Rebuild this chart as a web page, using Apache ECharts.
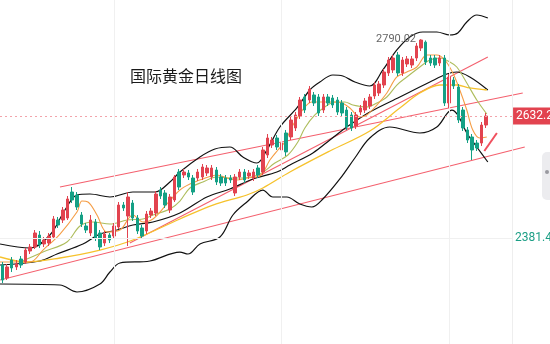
<!DOCTYPE html>
<html>
<head>
<meta charset="utf-8">
<script src="https://cdn.jsdelivr.net/npm/echarts@6/dist/echarts.min.js"></script>
<style>
  html, body { margin: 0; padding: 0; background: #fff; }
  #chart { width: 550px; height: 344px; }
</style>
</head>
<body>
<div id="chart"></div>
<script>
// Daily candles (oldest first): open, close, low, high
const opens = [2326.0,2299.3,2336.3,2322.0,2338.4,2332.2,2354.8,2363.0,2387.7,2369.2,
  2371.2,2383.6,2418.5,2418.5,2422.6,2476.0,2469.9,2428.8,2406.2,2391.8,
  2414.4,2391.8,2371.2,2387.7,2385.6,2404.1,2449.3,2426.7,2453.4,2422.6,
  2402.1,2395.9,2428.8,2432.9,2480.1,2474.0,2439.0,2459.6,2517.1,2511.0,
  2515.1,2504.8,2504.8,2506.9,2515.1,2506.9,2521.2,2506.9,2504.8,2504.8,
  2474.0,2506.9,2517.1,2508.9,2504.8,2525.4,2517.1,2552.1,2572.6,2587.0,
  2562.4,2597.3,2589.1,2607.6,2632.2,2671.3,2665.1,2675.4,2671.3,2644.5,
  2671.3,2669.2,2665.1,2658.9,2644.5,2634.3,2611.7,2640.4,2644.5,2652.8,
  2673.3,2679.5,2695.9,2720.6,2726.8,2757.6,2720.6,2739.1,2737.0,2751.4,
  2772.0,2784.0,2751.4,2751.4,2741.1,2751.4,2658.9,2706.2,2691.8,2644.5,
  2603.5,2589.1,2576.7,2576.7,2613.7];
const closes = [2295.2,2322.0,2319.9,2328.1,2326.0,2356.8,2363.0,2391.8,2367.1,2377.4,
  2385.6,2420.6,2408.2,2439.0,2461.7,2459.6,2445.2,2410.3,2397.9,2418.5,
  2381.5,2363.0,2389.7,2377.4,2406.2,2449.3,2443.2,2465.8,2422.6,2395.9,
  2385.6,2430.8,2437.0,2471.9,2467.8,2449.3,2465.8,2506.9,2486.3,2517.1,
  2506.9,2476.0,2517.1,2527.4,2525.4,2525.4,2496.6,2494.5,2494.5,2500.7,
  2506.9,2517.1,2500.7,2515.1,2517.1,2511.0,2562.4,2587.0,2582.9,2568.5,
  2576.7,2558.4,2624.0,2634.3,2665.1,2644.5,2687.7,2658.9,2638.4,2671.3,
  2658.9,2654.8,2640.4,2638.4,2609.6,2607.6,2634.3,2648.7,2663.0,2671.3,
  2695.9,2698.0,2722.6,2747.3,2751.4,2720.6,2747.3,2749.4,2749.4,2776.1,
  2788.4,2743.2,2741.1,2737.0,2751.4,2658.9,2712.4,2693.9,2624.0,2607.6,
  2582.9,2562.4,2566.5,2613.7,2632.2];
const lows = [2289.0,2295.2,2311.6,2315.7,2319.9,2328.1,2348.6,2358.9,2360.9,2363.0,
  2365.1,2379.5,2402.1,2412.3,2418.5,2453.4,2439.0,2404.1,2391.8,2385.6,
  2375.3,2356.8,2365.1,2371.2,2379.5,2400.0,2437.0,2365.1,2416.4,2389.7,
  2379.5,2389.7,2422.6,2426.7,2461.7,2443.2,2432.9,2455.5,2480.1,2504.8,
  2500.7,2469.9,2498.7,2500.7,2508.9,2500.7,2490.4,2488.4,2488.4,2494.5,
  2467.8,2500.7,2494.5,2502.8,2498.7,2504.8,2511.0,2545.9,2566.5,2562.4,
  2556.2,2550.0,2582.9,2601.4,2626.1,2638.4,2658.9,2652.8,2632.2,2638.4,
  2652.8,2648.7,2634.3,2632.2,2603.5,2601.4,2605.5,2634.3,2638.4,2646.6,
  2667.2,2673.3,2689.8,2714.4,2720.6,2714.4,2714.4,2732.9,2730.9,2745.2,
  2765.8,2737.0,2735.0,2730.9,2735.0,2652.8,2648.7,2687.7,2617.8,2601.4,
  2576.7,2541.8,2560.3,2570.6,2607.6];
const highs = [2332.2,2328.1,2342.5,2336.3,2344.5,2360.9,2369.2,2397.9,2395.9,2383.6,
  2391.8,2426.7,2424.7,2445.2,2467.8,2486.3,2476.0,2434.9,2412.3,2428.8,
  2420.6,2397.9,2395.9,2391.8,2412.3,2455.5,2455.5,2476.0,2459.6,2428.8,
  2408.2,2437.0,2443.2,2478.1,2486.3,2480.1,2471.9,2511.0,2523.3,2523.3,
  2521.2,2511.0,2523.3,2533.6,2531.5,2531.5,2527.4,2513.0,2511.0,2511.0,
  2513.0,2523.3,2523.3,2521.2,2523.3,2531.5,2568.5,2595.2,2589.1,2593.2,
  2582.9,2603.5,2630.2,2640.4,2671.3,2677.4,2693.9,2681.5,2677.4,2677.4,
  2677.4,2675.4,2671.3,2665.1,2650.7,2640.4,2640.4,2654.8,2669.2,2677.4,
  2702.1,2704.1,2728.8,2753.5,2757.6,2763.7,2753.5,2755.5,2755.5,2782.2,
  2790.02,2787.5,2757.6,2757.6,2757.6,2757.6,2718.5,2712.4,2698.0,2650.7,
  2609.6,2595.2,2582.9,2619.9,2638.4];

// Indicator curves as [day, price] points
const bollUpper = [[-0.5,2369.2],[5.95,2361.0],[10.24,2387.7],[13.46,2439.0],[16.04,2469.9],
  [18.84,2471.9],[23.13,2465.8],[28.07,2476.0],[32.8,2476.0],[36.02,2496.6],[38.17,2517.1],
  [42.47,2548.0],[45.69,2564.4],[48.91,2568.5],[51.71,2548.0],[54.72,2535.6],[56.86,2562.4],
  [59.66,2609.6],[63.31,2648.7],[66.1,2685.7],[68.25,2702.1],[71.04,2716.5],[73.19,2714.4],
  [75.77,2702.1],[78.99,2693.9],[81.79,2726.8],[84.8,2767.9],[87.59,2794.6],[90.38,2804.8],
  [93.39,2804.8],[96.18,2798.7],[97.9,2802.8],[99.83,2825.4],[101.98,2839.8],[104.35,2833.6]];
const bollMid = [[-0.5,2326.0],[8.09,2334.3],[11.75,2348.6],[17.33,2369.2],[20.98,2389.7],
  [24.64,2397.9],[28.07,2408.2],[32.37,2414.4],[38.17,2432.9],[43.97,2465.8],[48.91,2482.2],
  [53.86,2502.8],[59.01,2517.1],[61.81,2531.5],[66.75,2556.2],[70.4,2582.9],[74.05,2609.6],
  [78.99,2640.4],[85.44,2671.3],[91.89,2702.1],[95.54,2718.5],[97.68,2722.6],[100.48,2712.4],
  [104.35,2685.7]];
const bollLower = [[-0.5,2287.0],[12.39,2284.9],[16.04,2270.6],[20.98,2287.0],[23.13,2311.6],
  [25.28,2330.2],[31.73,2334.3],[38.17,2352.7],[39.89,2348.6],[42.47,2369.2],[46.77,2383.6],
  [49.56,2428.8],[52.57,2455.5],[56.0,2480.1],[58.15,2465.8],[61.16,2465.8],[63.95,2451.4],
  [66.53,2445.2],[68.9,2461.7],[72.55,2502.8],[75.77,2545.9],[78.99,2587.0],[83.29,2609.6],
  [89.74,2597.3],[93.39,2609.6],[96.61,2644.5],[97.9,2634.3],[99.83,2597.3],[101.98,2568.5],
  [104.35,2537.7]];
const ma5 = [[-0.5,2332.2],[5.95,2332.2],[8.74,2356.8],[12.39,2389.7],[16.04,2434.9],
  [17.12,2457.5],[18.41,2455.5],[20.34,2428.8],[22.49,2393.8],[25.28,2397.9],[28.07,2428.8],
  [30.22,2414.4],[32.37,2420.6],[35.38,2451.4],[38.17,2480.1],[40.32,2492.5],[43.11,2502.8],
  [46.12,2511.0],[48.27,2504.8],[50.42,2500.7],[52.57,2504.8],[55.36,2508.9],[57.51,2541.8],
  [59.23,2562.4],[60.73,2578.8],[62.24,2609.6],[63.52,2630.2],[65.03,2650.7],[66.53,2661.0],
  [68.68,2661.0],[70.83,2661.0],[72.98,2658.9],[74.7,2648.7],[76.84,2630.2],[78.35,2634.3],
  [80.5,2654.8],[82.65,2679.5],[84.8,2712.4],[86.94,2722.6],[89.09,2732.9],[91.24,2757.6],
  [93.39,2757.6],[95.11,2747.3],[96.83,2720.6],[98.33,2685.7],[99.83,2644.5],[101.12,2603.5],
  [102.63,2587.0],[104.13,2589.1]];
const ma10 = [[3.8,2332.2],[8.74,2352.7],[13.89,2373.3],[16.69,2406.2],[19.48,2414.4],
  [23.13,2410.3],[26.79,2418.5],[30.22,2420.6],[32.37,2428.8],[36.02,2441.1],[38.17,2457.5],
  [40.32,2484.3],[43.11,2496.6],[46.12,2506.9],[48.91,2504.8],[51.71,2504.8],[55.36,2513.0],
  [58.58,2535.6],[61.38,2552.1],[63.52,2578.8],[65.03,2607.6],[67.18,2634.3],[69.33,2650.7],
  [71.47,2661.0],[73.62,2661.0],[75.34,2654.8],[78.35,2650.7],[80.5,2658.9],[82.65,2671.3],
  [84.8,2695.9],[86.94,2712.4],[89.74,2732.9],[91.89,2747.3],[94.03,2751.4],[96.18,2743.2],
  [97.68,2732.9],[99.83,2700.0],[101.98,2665.1],[104.13,2636.3]];
const ma30 = [[-0.5,2342.5],[5.3,2332.2],[12.39,2340.4],[20.98,2356.8],[28.07,2377.4],
  [38.17,2420.6],[45.26,2449.3],[52.57,2469.9],[56.0,2484.3],[61.81,2517.1],[70.4,2560.3],
  [78.99,2601.4],[85.44,2648.7],[89.74,2679.5],[94.03,2695.9],[97.68,2695.9],[100.48,2689.8],
  [104.13,2685.7]];

// Hand-drawn trend lines, each from one [day, price] point to another
const trendLines = [
  [[12.39, 2486.3], [111.86, 2679.5]],
  [[-0.5, 2295.2], [112.29, 2568.5]],
  [[27.4, 2371.2], [104.35, 2753.5]]
];
const arrowFrom = [103.6, 2560.4];
const arrowTo = [106.3, 2597.3];

const lastPrice = 2632.20;
const refLevel = 2381.48;
const gridDays = [24, 60, 96];
const priceScaleEdge = 109.56;   // day position of the price-scale border
const slotCount = 118;
const days = Array.from({ length: slotCount }, (_, i) => String(i + 1));

const UP = '#e2434f', DOWN = '#14a085', TREND = '#f4606e';
const candles = opens.map((o, i) => [o, closes[i], lows[i], highs[i]]);
const Y_MIN = 2163.7, Y_MAX = 2870.6;

function curve(data, color, width) {
  return {
    type: 'line', xAxisIndex: 1, data, smooth: 0.35, symbol: 'none', silent: true,
    lineStyle: { color, width }, z: 3
  };
}
function hLine(price, lineStyle, label) {
  return [{ coord: [-0.5, price], lineStyle, label }, { coord: [priceScaleEdge, price] }];
}

const chart = echarts.init(document.getElementById('chart'), null, { renderer: 'canvas' });
chart.setOption({
  animation: false,
  backgroundColor: '#ffffff',
  title: {
    text: '国际黄金日线图', left: 125, top: 63,
    textStyle: { fontFamily: 'Noto Sans CJK SC', fontSize: 16, fontWeight: 'normal', color: '#1a1a1a' }
  },
  grid: { left: 0, right: 1, top: 0, bottom: 0 },
  xAxis: [
    { type: 'category', data: days, boundaryGap: true, show: false },
    { type: 'value', min: -0.5, max: slotCount - 0.5, show: false }
  ],
  yAxis: {
    type: 'value', min: Y_MIN, max: Y_MAX, show: false, splitLine: { show: false }
  },
  series: [
    {
      type: 'candlestick', data: candles, barWidth: 3, z: 4,
      itemStyle: { color: UP, color0: DOWN, borderColor: UP, borderColor0: DOWN, borderWidth: 1 },
      markPoint: {
        symbol: 'circle', symbolSize: 0,
        data: [{ type: 'max', valueDim: 'highest' }],
        label: {
          show: true, position: 'left', distance: 5, color: '#666666', fontSize: 11,
          fontFamily: 'Roboto', formatter: p => Number(p.value).toFixed(2)
        }
      },
      markLine: {
        silent: true, symbol: 'none', animation: false,
        data: gridDays.map(d => ({ xAxis: d, lineStyle: { color: '#f0f0f0', width: 1, type: 'solid' }, label: { show: false } }))
      }
    },
    curve(bollUpper, '#111111', 1.2),
    curve(bollMid, '#111111', 1.2),
    curve(bollLower, '#111111', 1.2),
    curve(ma30, '#f6c22c', 1.3),
    curve(ma10, '#aebd5c', 1.1),
    curve(ma5, '#f59d45', 1.1),
    ...trendLines.map(seg => ({
      type: 'line', xAxisIndex: 1, data: seg, symbol: 'none', silent: true,
      lineStyle: { color: TREND, width: 1.1 }, z: 2
    })),
    {
      type: 'line', xAxisIndex: 1, data: [], silent: true, z: 1,
      markLine: {
        silent: true, symbol: 'none', animation: false, label: { show: false },
        data: [
          [{ coord: [priceScaleEdge, Y_MIN], lineStyle: { color: '#eeeeee', width: 1, type: 'solid' } },
           { coord: [priceScaleEdge, Y_MAX] }],
          hLine(refLevel, { color: '#f0f0f0', width: 1, type: 'solid' },
            { show: true, position: 'end', distance: 3, formatter: refLevel.toFixed(2), color: '#1b9e85', fontSize: 12, fontFamily: 'Roboto' }),
          hLine(lastPrice, { color: '#f3a3aa', width: 1, type: [2, 3] },
            { show: true, position: 'end', distance: 1, formatter: lastPrice.toFixed(2), color: '#ffffff',
              backgroundColor: '#e2434f', padding: [3, 4, 2, 3], fontSize: 12, fontFamily: 'Roboto' })
        ]
      }
    },
    {
      type: 'line', xAxisIndex: 1, data: [], silent: true, z: 5,
      markLine: {
        silent: true, symbol: ['none', 'arrow'], symbolSize: [0, 10], animation: false,
        lineStyle: { color: '#f0505e', width: 2, type: 'solid' }, label: { show: false },
        data: [[{ coord: arrowFrom }, { coord: arrowTo }]]
      }
    }
  ],
  graphic: [
    { type: 'rect', right: -6, top: 152, shape: { width: 14, height: 48, r: 5 }, style: { fill: '#ececef' }, silent: true, z: 10 },
    { type: 'circle', right: 1, top: 170, shape: { r: 2 }, style: { fill: '#9a9aa0' }, silent: true, z: 11 }
  ]
});
</script>
</body>
</html>
